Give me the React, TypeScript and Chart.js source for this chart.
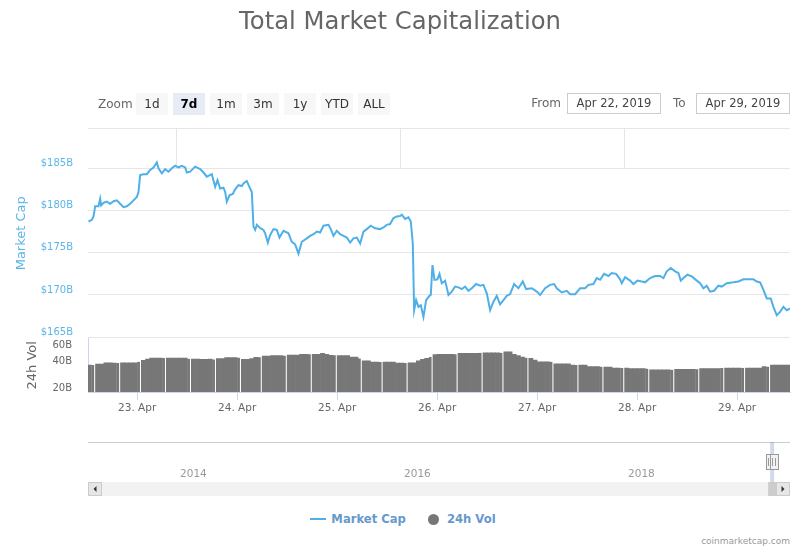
import React, { useEffect, useRef } from 'react';
import { Chart, registerables } from 'chart.js';

Chart.register(...registerables);

// ---------- data ----------
const chartTitle = 'Total Market Capitalization';

// Market cap: time in hours since 22 Apr 2019 00:00, value in $B
const capHours = [
  12.32, 13.12, 13.52, 13.92, 14.72, 15.12, 15.36, 15.92, 16.72, 17.52,
  18.32, 19.12, 19.92, 20.72, 21.52, 22.32, 23.12, 23.92, 24.32, 24.72,
  25.52, 26.32, 27.12, 27.92, 28.72, 29.12, 29.92, 30.72, 31.52, 32.32,
  33.12, 33.92, 34.72, 35.52, 35.92, 36.72, 37.92, 39.12, 39.92, 40.72,
  41.92, 42.72, 43.28, 43.92, 44.72, 45.12, 45.52, 46.16, 46.96, 47.52,
  48.32, 49.12, 49.52, 50.32, 51.12, 51.52, 51.92, 52.32, 52.72, 53.52,
  54.32, 54.72, 55.36, 55.92, 56.72, 57.52, 58.16, 59.12, 60.32, 61.12,
  61.92, 62.72, 63.52, 64.72, 65.52, 66.32, 67.12, 67.92, 68.72, 69.92,
  70.48, 71.12, 71.92, 72.72, 73.52, 74.32, 75.12, 75.92, 76.72, 77.52,
  78.32, 79.12, 80.08, 81.12, 82.32, 83.12, 83.92, 84.72, 85.52, 86.32,
  87.12, 87.52, 88.32, 89.12, 89.68,
  90.16, 90.48, 90.96, 91.52, 92.08, 92.72, 93.36, 94.16, 94.48, 94.88,
  95.36, 96.08, 96.56, 97.12, 97.92, 98.72, 99.52, 100.32, 101.12, 101.92,
  102.72, 103.52, 104.32, 105.36, 106.32, 107.12, 107.92, 108.72, 109.52, 110.32,
  111.12, 111.92, 112.72, 113.52, 114.48, 115.52, 116.56, 117.36, 118.72, 119.92,
  120.72, 121.92, 123.12, 124.08, 124.72, 125.92, 127.12, 127.92, 129.12, 130.32,
  131.52, 132.32, 133.52, 134.32, 135.12, 136.08, 137.12, 137.92, 138.96, 139.92,
  140.32, 141.12, 142.32, 143.12, 144.08, 145.12, 145.92, 147.12, 148.32, 149.52,
  150.32, 151.12, 152.08, 153.12, 153.92, 154.48, 155.12, 156.08, 157.12, 158.32,
  159.12, 159.92, 160.72, 161.52, 162.48, 163.52, 164.32, 165.52, 167.12, 168.32,
  169.52, 171.12, 171.92, 172.72, 173.52, 174.32, 175.12, 176.08, 176.72, 177.52,
  178.32, 179.12, 179.92, 180.72,
];
const capValues = [
  178.7, 178.9, 179.3, 180.5, 180.5, 181.4, 180.6, 180.9, 181.05, 180.8,
  181.1, 181.2, 180.8, 180.4, 180.5, 180.8, 181.2, 181.6, 182.2, 184.2,
  184.3, 184.3, 184.8, 185.1, 185.7, 185.0, 184.4, 184.9, 184.6, 185.0,
  185.3, 185.1, 185.3, 185.1, 184.5, 184.6, 185.2, 184.9, 184.5, 184.0,
  184.3, 182.8, 183.6, 182.6, 182.7, 182.2, 181.05, 181.8, 181.95, 182.5,
  183.0, 182.9, 183.2, 183.5, 182.6, 182.2, 178.1, 177.7, 178.3, 177.9,
  177.7, 177.3, 176.2, 177.1, 177.8, 177.7, 176.8, 177.6, 177.3, 176.3,
  176.0, 174.9, 176.3, 176.7, 177.0, 177.2, 177.5, 177.4, 178.2, 178.3,
  177.8, 177.0, 177.6, 177.2, 177.0, 176.8, 176.2, 176.7, 176.8, 176.1,
  177.5, 177.8, 178.2, 177.9, 177.8, 178.0, 178.3, 178.4, 179.1, 179.3,
  179.35, 179.5, 179.0, 179.2, 178.7,
  176.1, 168.2, 169.4, 168.6, 168.8, 167.4, 169.4, 169.9, 170.0, 173.55,
  171.8, 171.85, 172.5, 171.4, 171.7, 170.0, 170.4, 171.0, 170.9, 170.7,
  171.0, 170.5, 170.8, 171.3, 171.1, 171.2, 170.2, 168.2, 169.2, 169.9,
  168.9, 169.4, 169.9, 170.1, 171.3, 170.8, 171.6, 170.7, 170.8, 170.4,
  170.0, 170.8, 171.2, 171.3, 170.8, 170.3, 170.5, 170.1, 170.1, 170.8,
  170.8, 171.2, 171.3, 172.0, 171.8, 172.5, 172.25, 172.6, 172.5, 171.85,
  171.4, 172.1, 171.7, 171.3, 171.7, 171.6, 171.5, 172.0, 172.25, 172.25,
  172.0, 172.8, 173.2, 172.8, 172.6, 171.7, 172.0, 172.4, 172.2, 171.7,
  171.4, 170.8, 171.1, 170.4, 170.5, 171.1, 171.0, 171.4, 171.5, 171.6,
  171.85, 171.85, 171.85, 171.6, 171.5, 170.6, 169.6, 169.6, 168.6, 167.6,
  168.0, 168.6, 168.2, 168.4,
];

// 24h volume in $B, one bar per hour starting at hour 12 of 22 Apr
const volStartHour = 12;
const volValues = [
  36.1, 36.1, 37.0, 37.0, 38.3, 38.3, 38.0, 38.0, 38.3, 38.3, 38.3, 38.3,
  39.3, 40.7, 42.1, 43.2, 43.2, 43.2, 43.2, 43.2, 43.2, 43.2, 43.2, 43.2,
  42.5, 42.1, 42.1, 41.7, 41.7, 42.1, 41.7, 42.5, 42.5, 43.6, 43.6, 43.6,
  43.6, 41.7, 41.7, 42.5, 44.0, 44.0, 45.5, 45.5, 45.9, 45.9, 45.9, 45.9,
  46.7, 46.7, 46.7, 47.5, 47.5, 47.5, 47.5, 47.5, 48.7, 47.5, 46.3, 46.3,
  45.9, 45.9, 45.9, 44.3, 44.3, 42.8, 40.3, 40.3, 39.0, 39.0, 39.0, 39.0,
  39.0, 39.0, 38.0, 38.0, 38.0, 38.3, 38.3, 40.3, 41.7, 42.8, 44.3, 47.1,
  47.5, 47.5, 47.5, 47.5, 47.5, 48.7, 48.7, 48.7, 48.7, 48.7, 49.5, 49.5,
  49.5, 49.5, 49.5, 49.5, 50.8, 50.8, 47.5, 45.9, 44.3, 43.6, 42.8, 41.0,
  39.3, 39.3, 39.3, 39.3, 37.3, 37.3, 37.3, 37.3, 36.1, 36.1, 36.1, 36.1,
  34.6, 34.6, 34.6, 34.6, 34.3, 34.3, 33.4, 33.4, 33.4, 33.4, 32.9, 32.9,
  32.9, 32.9, 32.9, 32.0, 32.0, 32.0, 32.0, 32.0, 32.0, 32.3, 32.3, 32.3,
  32.3, 32.3, 32.3, 32.9, 32.9, 32.9, 32.9, 32.9, 33.4, 33.4, 33.4, 33.4,
  33.4, 33.4, 33.4, 33.4, 33.4, 33.4, 34.6, 34.6, 36.1, 36.1, 36.1, 36.1, 36.1,
];

const dayTicks = [24, 48, 72, 96, 120, 144, 168];
const dayLabels = ['23. Apr', '24. Apr', '25. Apr', '26. Apr', '27. Apr', '28. Apr', '29. Apr'];
const capTicks = [165, 170, 175, 180, 185];
const volTicks = [20, 40, 60];
const navYears = [2014, 2016, 2018];
const navFrom = 2019.304;
const navTo = 2019.323;
const zoomButtons = ['1d', '7d', '1m', '3m', '1y', 'YTD', 'ALL'];
const selectedZoom = '7d';
const fromDate = 'Apr 22, 2019';
const toDate = 'Apr 29, 2019';

// ---------- view / style ----------
const FONT = '"DejaVu Sans", Verdana, sans-serif';
const LINE_COLOR = '#4fb0e8';
const CAP_LABEL_COLOR = '#5cb5e9';
const VOL_COLOR = '#777777';
const AXIS_LINE = '#ccd6eb';
const GRID = '#e6e6e6';
const LEGEND_COLOR = '#6699cc';

const X_MIN = 12.2, X_MAX = 180.7;
const CAP_MIN = 164.85, CAP_MAX = 189.77;
const VOL_MIN = 18.05, VOL_MAX = 71.4;
const NAV_MIN = 2013.214, NAV_MAX = 2019.482;
const GAP_PHASE = 13.75, GAP_PERIOD = 5.8;

Chart.defaults.font.family = FONT;

function isGap(i: number) {
  const e = volStartHour + i + 1;
  const p = (e - GAP_PHASE) / GAP_PERIOD;
  return Math.abs(p - Math.round(p)) * GAP_PERIOD < 0.5;
}

const framePlugin = {
  id: 'frame',
  beforeDatasetsDraw(chart: any) {
    const { ctx, chartArea: a, scales } = chart;
    ctx.save();
    ctx.strokeStyle = GRID;
    ctx.lineWidth = 1;
    ctx.beginPath();
    ctx.moveTo(a.left, a.top + 0.5);
    ctx.lineTo(a.right, a.top + 0.5);
    const yTop = scales.y.getPixelForValue(185);
    navYears.forEach((yr) => {
      const px = Math.round(scales.xYear.getPixelForValue(yr)) + 0.5;
      ctx.moveTo(px, a.top);
      ctx.lineTo(px, yTop);
    });
    ctx.stroke();
    ctx.restore();
  },
};

const navPlugin = {
  id: 'navDecor',
  afterDraw(chart: any) {
    const { ctx, chartArea: a, scales } = chart;
    const xs = scales.x;
    const bandBottom = a.bottom + 14;
    const sbH = 14;
    ctx.save();
    ctx.strokeStyle = '#cccccc';
    ctx.lineWidth = 1;
    ctx.beginPath();
    ctx.moveTo(a.left, a.top + 0.5);
    ctx.lineTo(a.right, a.top + 0.5);
    ctx.stroke();
    let x1 = xs.getPixelForValue(navFrom);
    let x2 = xs.getPixelForValue(navTo);
    if (x2 - x1 < 4) { const c = (x1 + x2) / 2 + 1; x1 = c - 2; x2 = c + 2; }
    ctx.fillStyle = 'rgba(102,133,194,0.3)';
    ctx.fillRect(x1, a.top, x2 - x1, bandBottom - a.top);
    ctx.fillStyle = '#f2f2f2';
    ctx.fillRect(a.left, bandBottom, a.right - a.left, sbH);
    const c = (x1 + x2) / 2;
    ctx.fillStyle = '#cccccc';
    ctx.fillRect(c - 4, bandBottom, 8, sbH);
    const drawBtn = (bx: number, dir: number) => {
      ctx.fillStyle = '#e6e6e6';
      ctx.fillRect(bx, bandBottom, 14, sbH);
      ctx.strokeStyle = '#cccccc';
      ctx.strokeRect(bx + 0.5, bandBottom + 0.5, 13, sbH - 1);
      ctx.fillStyle = '#333333';
      const cx = bx + 7, cy = bandBottom + sbH / 2;
      ctx.beginPath();
      ctx.moveTo(cx - 1.5 * dir, cy - 3);
      ctx.lineTo(cx + 1.5 * dir, cy);
      ctx.lineTo(cx - 1.5 * dir, cy + 3);
      ctx.closePath();
      ctx.fill();
    };
    drawBtn(a.left, -1);
    drawBtn(a.right - 14, 1);
    const drawHandle = (hx: number) => {
      const hy = a.top + 12;
      const rx = Math.round(hx);
      ctx.fillStyle = '#f2f2f2';
      ctx.fillRect(rx - 4, hy, 8, 15);
      ctx.strokeStyle = '#999999';
      ctx.strokeRect(rx - 3.5, hy + 0.5, 8, 15);
      ctx.beginPath();
      ctx.moveTo(rx - 1.5, hy + 4);
      ctx.lineTo(rx - 1.5, hy + 12);
      ctx.moveTo(rx + 1.5, hy + 4);
      ctx.lineTo(rx + 1.5, hy + 12);
      ctx.stroke();
    };
    drawHandle(x1);
    drawHandle(x2);
    ctx.restore();
  },
};

export default function App() {
  const mainRef = useRef<HTMLCanvasElement>(null);
  const navRef = useRef<HTMLCanvasElement>(null);

  useEffect(() => {
    const main = new Chart(mainRef.current as HTMLCanvasElement, {
      type: 'line',
      data: {
        datasets: [
          {
            type: 'line',
            label: 'Market Cap',
            data: capHours.map((h, i) => ({ x: h, y: capValues[i] })),
            borderColor: LINE_COLOR,
            borderWidth: 2,
            pointRadius: 0,
            tension: 0,
            xAxisID: 'x',
            yAxisID: 'y',
            order: 0,
          },
          {
            type: 'bar',
            label: '24h Vol',
            data: volValues.map((v, i) => ({ x: volStartHour + i + 0.5, y: v })),
            backgroundColor: VOL_COLOR,
            borderColor: '#ffffff',
            borderWidth: (ctx: any) => (isGap(ctx.dataIndex) ? { top: 0, left: 0, bottom: 0, right: 1.7 } : 0),
            borderSkipped: 'start',
            barPercentage: 1,
            categoryPercentage: 1,
            xAxisID: 'x',
            yAxisID: 'yv',
            order: 1,
          },
        ] as any,
      },
      options: {
        animation: false,
        responsive: false,
        events: [],
        layout: { autoPadding: false, padding: { top: 128, right: 10, left: 0, bottom: 0 } },
        plugins: { legend: { display: false }, title: { display: false }, tooltip: { enabled: false } },
        scales: {
          x: {
            type: 'linear',
            position: 'bottom',
            offset: false,
            min: X_MIN,
            max: X_MAX,
            afterBuildTicks: (s: any) => { s.ticks = dayTicks.map((v) => ({ value: v })); },
            afterFit: (s: any) => { s.height = 28; },
            ticks: {
              color: '#666666',
              font: { size: 10.5 },
              padding: 2,
              autoSkip: false,
              maxRotation: 0,
              callback: (_v: any, i: number) => dayLabels[i],
            },
            grid: { offset: false, drawOnChartArea: false, drawTicks: true, tickLength: 8, tickColor: AXIS_LINE, color: AXIS_LINE },
            border: { display: true, color: AXIS_LINE },
          },
          xYear: { type: 'linear', position: 'bottom', display: false, offset: false, min: NAV_MIN, max: NAV_MAX },
          yv: {
            type: 'logarithmic',
            position: 'left',
            stack: 'panes',
            stackWeight: 53.5,
            min: VOL_MIN,
            max: VOL_MAX,
            afterBuildTicks: (s: any) => { s.ticks = volTicks.map((v) => ({ value: v })); },
            afterFit: (s: any) => { s.width = 88; },
            ticks: { color: '#666666', font: { size: 10 }, padding: 16, autoSkip: false, callback: (v: any) => v + 'B' },
            grid: { display: false, drawTicks: false },
            border: { display: true, color: AXIS_LINE },
            title: { display: true, text: '24h Vol', color: '#666666', font: { size: 13 }, padding: { top: 25.2, bottom: 0 } },
          },
          y: {
            type: 'linear',
            position: 'left',
            stack: 'panes',
            stackWeight: 210.5,
            min: CAP_MIN,
            max: CAP_MAX,
            afterBuildTicks: (s: any) => { s.ticks = capTicks.map((v) => ({ value: v })); },
            afterFit: (s: any) => { s.width = 88; },
            ticks: {
              color: CAP_LABEL_COLOR,
              font: { size: 10 },
              padding: 15,
              labelOffset: -5,
              autoSkip: false,
              callback: (v: any) => '$' + v + 'B',
            },
            grid: { color: GRID, drawTicks: false },
            border: { display: false },
            title: { display: true, text: 'Market Cap', color: CAP_LABEL_COLOR, font: { size: 13 }, padding: { top: 14.2, bottom: 0 } },
          },
        } as any,
      },
      plugins: [framePlugin],
    });

    const nav = new Chart(navRef.current as HTMLCanvasElement, {
      type: 'line',
      data: { datasets: [] },
      options: {
        animation: false,
        responsive: false,
        events: [],
        layout: { autoPadding: false, padding: { top: 6, right: 10, left: 88, bottom: 18 } },
        plugins: { legend: { display: false }, tooltip: { enabled: false } },
        scales: {
          x: {
            type: 'linear',
            offset: false,
            min: NAV_MIN,
            max: NAV_MAX,
            afterBuildTicks: (s: any) => { s.ticks = navYears.map((v) => ({ value: v })); },
            afterFit: (s: any) => { s.height = 14; },
            ticks: {
              color: '#999999',
              font: { size: 10.5 },
              padding: 0,
              align: 'start',
              labelOffset: 4,
              autoSkip: false,
              maxRotation: 0,
              callback: (_v: any, i: number) => String(navYears[i]),
            },
            grid: { display: false, drawTicks: false },
            border: { display: false },
          },
          y: { display: false, min: 0, max: 1 },
        } as any,
      },
      plugins: [navPlugin],
    });

    return () => {
      main.destroy();
      nav.destroy();
    };
  }, []);

  return (
    <div style={{ position: 'absolute', left: 0, top: 0, width: 800, height: 550, background: '#ffffff', fontFamily: FONT, overflow: 'hidden' }}>
      <canvas ref={mainRef} width={800} height={420} style={{ position: 'absolute', left: 0, top: 0, width: 800, height: 420 }} />
      <canvas ref={navRef} width={800} height={64} style={{ position: 'absolute', left: 0, top: 436, width: 800, height: 64 }} />
      <div style={{ position: 'absolute', left: 0, top: 7, width: 800, textAlign: 'center', fontSize: 24.3, lineHeight: '28px', color: '#666666' }}>
        {chartTitle}
      </div>
      <div style={{ position: 'absolute', left: 98, top: 93, height: 22, lineHeight: '22px', fontSize: 12, color: '#666666' }}>Zoom</div>
      <div style={{ position: 'absolute', left: 136, top: 93, display: 'flex', gap: 5 }}>
        {zoomButtons.map((b) => (
          <div
            key={b}
            style={{
              width: 32,
              height: 22,
              lineHeight: '22px',
              textAlign: 'center',
              fontSize: 12,
              background: b === selectedZoom ? '#e6ebf5' : '#f7f7f7',
              color: b === selectedZoom ? '#000000' : '#333333',
              fontWeight: b === selectedZoom ? 'bold' : 'normal',
            }}
          >
            {b}
          </div>
        ))}
      </div>
      <div style={{ position: 'absolute', left: 500, width: 61, top: 93, textAlign: 'right', lineHeight: '21px', fontSize: 12, color: '#666666' }}>From</div>
      <div style={{ position: 'absolute', left: 567, top: 93, width: 94, height: 21, boxSizing: 'border-box', border: '1px solid #cccccc', textAlign: 'center', lineHeight: '19px', fontSize: 11.5, color: '#444444' }}>{fromDate}</div>
      <div style={{ position: 'absolute', left: 673, top: 93, lineHeight: '21px', fontSize: 12, color: '#666666' }}>To</div>
      <div style={{ position: 'absolute', left: 696, top: 93, width: 94, height: 21, boxSizing: 'border-box', border: '1px solid #cccccc', textAlign: 'center', lineHeight: '19px', fontSize: 11.5, color: '#444444' }}>{toDate}</div>

      <div style={{ position: 'absolute', left: 3, top: 511, width: 800, height: 16, display: 'flex', justifyContent: 'center', alignItems: 'center', fontSize: 11.6, fontWeight: 'bold', color: LEGEND_COLOR }}>
        <span style={{ display: 'inline-block', width: 16, height: 2, background: LINE_COLOR, marginRight: 5 }} />
        <span>Market Cap</span>
        <span style={{ display: 'inline-block', width: 16, height: 12, marginLeft: 20, marginRight: 5, position: 'relative' }}>
          <span style={{ position: 'absolute', left: 2.5, top: 0.5, width: 11, height: 11, borderRadius: '50%', background: VOL_COLOR }} />
        </span>
        <span>24h Vol</span>
      </div>
      <div style={{ position: 'absolute', right: 10, top: 535, lineHeight: '12px', fontSize: 9, color: '#999999' }}>coinmarketcap.com</div>
    </div>
  );
}
